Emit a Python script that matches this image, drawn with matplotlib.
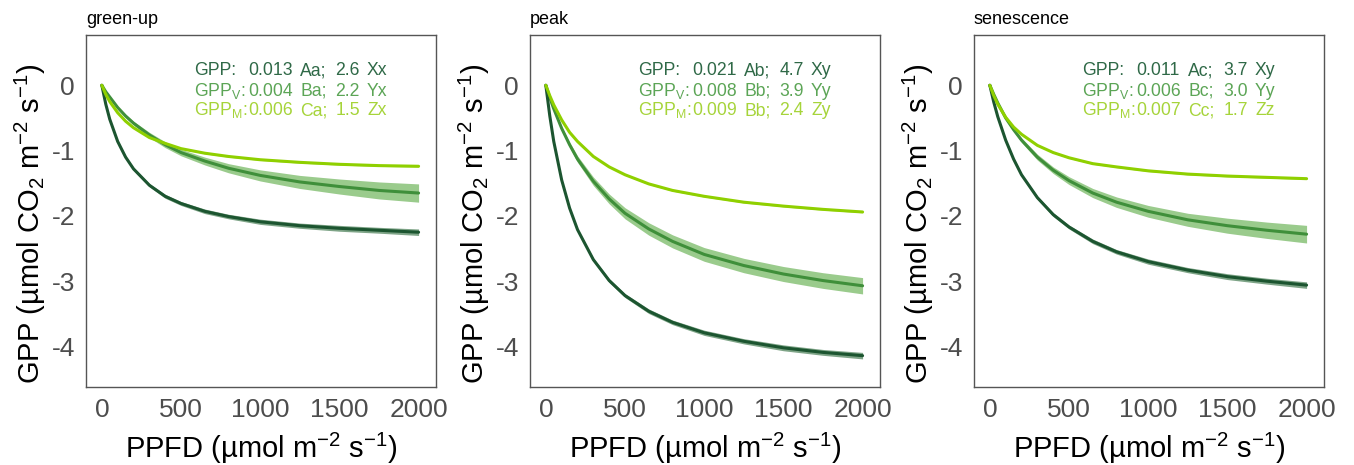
import matplotlib
matplotlib.use("Agg")
import matplotlib.pyplot as plt
import numpy as np

plt.rcParams['font.family'] = ['Liberation Sans', 'DejaVu Sans']
plt.rcParams['mathtext.default'] = 'regular'

# ---------------- data ----------------
ppfd = [0, 25, 50, 100, 150, 200, 300, 400, 500, 650, 800, 1000, 1250, 1500, 1750, 2000]

panel_titles = ["green-up", "peak", "senescence"]

# GPP (dark), GPP_V (medium), GPP_M (light)
gpp_greenup = [0, -0.29, -0.52, -0.86, -1.10, -1.28, -1.53, -1.70, -1.81, -1.93, -2.01, -2.09, -2.15, -2.19, -2.22, -2.25]
gppv_greenup = [0, -0.10, -0.18, -0.34, -0.47, -0.58, -0.76, -0.91, -1.03, -1.16, -1.27, -1.38, -1.48, -1.55, -1.61, -1.65]
gppm_greenup = [0, -0.14, -0.25, -0.42, -0.55, -0.65, -0.80, -0.89, -0.97, -1.04, -1.09, -1.14, -1.18, -1.21, -1.23, -1.24]

gpp_peak = [0, -0.47, -0.86, -1.45, -1.88, -2.21, -2.67, -2.99, -3.22, -3.46, -3.63, -3.79, -3.92, -4.02, -4.09, -4.14]
gppv_peak = [0, -0.19, -0.36, -0.66, -0.91, -1.13, -1.47, -1.74, -1.96, -2.20, -2.39, -2.59, -2.76, -2.89, -2.99, -3.07]
gppm_peak = [0, -0.16, -0.30, -0.53, -0.72, -0.86, -1.09, -1.25, -1.37, -1.51, -1.61, -1.70, -1.79, -1.85, -1.90, -1.94]

gpp_sen = [0, -0.26, -0.48, -0.84, -1.13, -1.37, -1.72, -1.98, -2.17, -2.39, -2.55, -2.70, -2.83, -2.93, -3.00, -3.06]
gppv_sen = [0, -0.14, -0.27, -0.50, -0.68, -0.84, -1.10, -1.30, -1.46, -1.65, -1.79, -1.93, -2.06, -2.15, -2.22, -2.28]
gppm_sen = [0, -0.16, -0.29, -0.49, -0.64, -0.75, -0.92, -1.03, -1.11, -1.20, -1.25, -1.31, -1.36, -1.39, -1.41, -1.43]

# half-widths of the confidence bands
band_dark = [0, 0.005, 0.01, 0.015, 0.02, 0.02, 0.025, 0.03, 0.03, 0.035, 0.035, 0.04, 0.04, 0.045, 0.045, 0.05]
band_v_greenup = [0, 0.01, 0.015, 0.02, 0.025, 0.03, 0.04, 0.045, 0.05, 0.06, 0.07, 0.085, 0.10, 0.115, 0.13, 0.14]
band_v_peak = [0, 0.01, 0.02, 0.03, 0.04, 0.05, 0.065, 0.075, 0.085, 0.095, 0.10, 0.105, 0.11, 0.115, 0.12, 0.125]
band_v_sen = [0, 0.01, 0.015, 0.02, 0.025, 0.035, 0.045, 0.05, 0.06, 0.07, 0.08, 0.09, 0.10, 0.115, 0.125, 0.135]
band_light = [0, 0.002, 0.004, 0.005, 0.006, 0.007, 0.008, 0.009, 0.01, 0.01, 0.011, 0.011, 0.012, 0.012, 0.012, 0.012]

# annotation texts: alpha, group letter, Pmax, group letter
ann_greenup = [("0.013", "Aa;", "2.6", "Xx"), ("0.004", "Ba;", "2.2", "Yx"), ("0.006", "Ca;", "1.5", "Zx")]
ann_peak = [("0.021", "Ab;", "4.7", "Xy"), ("0.008", "Bb;", "3.9", "Yy"), ("0.009", "Bb;", "2.4", "Zy")]
ann_sen = [("0.011", "Ac;", "3.7", "Xy"), ("0.006", "Bc;", "3.0", "Yy"), ("0.007", "Cc;", "1.7", "Zz")]

series_labels = ["GPP:", "GPP$_{V}$:", "GPP$_{M}$:"]

x_ticks = [0, 500, 1000, 1500, 2000]
y_ticks = [0, -1, -2, -3, -4]

# ---------------- styling ----------------
c_dark = "#1c5530"
c_med = "#3f8f3a"
c_light = "#8fd000"
c_band_dark = "#7ea487"
c_band_med = "#9acb8c"
c_txt = ["#2f6947", "#5ca556", "#a6d43a"]

panels = [
    (gpp_greenup, gppv_greenup, gppm_greenup, band_v_greenup, ann_greenup),
    (gpp_peak, gppv_peak, gppm_peak, band_v_peak, ann_peak),
    (gpp_sen, gppv_sen, gppm_sen, band_v_sen, ann_sen),
]

W, H = 1354, 465
fig = plt.figure(figsize=(W / 100, H / 100), dpi=100)
lefts = [86, 530, 974]
ax_w, ax_top, ax_bot = 350, 35, 387

x = np.array(ppfd, dtype=float)
for i, (dark, med, light, bandv, ann) in enumerate(panels):
    ax = fig.add_axes([lefts[i] / W, 1 - ax_bot / H, ax_w / W, (ax_bot - ax_top) / H])
    d, m, l = np.array(dark), np.array(med), np.array(light)
    bd, bv, bl = np.array(band_dark), np.array(bandv), np.array(band_light)

    ax.fill_between(x, m - bv, m + bv, color=c_band_med, lw=0, zorder=1)
    ax.plot(x, m, color=c_med, lw=2.2, zorder=2, solid_capstyle='round')
    ax.fill_between(x, d - bd, d + bd, color=c_band_dark, lw=0, zorder=3)
    ax.plot(x, d, color=c_dark, lw=2.2, zorder=4, solid_capstyle='round')
    ax.fill_between(x, l - bl, l + bl, color="#b8e070", lw=0, zorder=5)
    ax.plot(x, l, color=c_light, lw=2.2, zorder=6, solid_capstyle='round')

    ax.set_xlim(-100, 2110)
    ax.set_ylim(-4.62, 0.77)
    ax.set_xticks(x_ticks)
    ax.set_yticks(y_ticks)
    ax.set_yticklabels([str(t) for t in y_ticks])
    ax.tick_params(length=0, labelsize=19, colors="#4d4d4d", pad=8)
    for s in ax.spines.values():
        s.set_color("#555555")
        s.set_linewidth(1.0)

    ax.set_xlabel("PPFD (µmol m$^{-2}$ s$^{-1}$)", fontsize=21, labelpad=6)
    ax.set_ylabel("GPP (µmol CO$_{2}$ m$^{-2}$ s$^{-1}$)", fontsize=21, va='center')
    ax.yaxis.set_label_coords(-56 / ax_w, 0.465)
    ax.set_title(panel_titles[i], loc='left', fontsize=13, pad=8)

    cols = [0.309, 0.463, 0.612, 0.712, 0.803]
    ys = [0.886, 0.8276, 0.7727]
    for k in range(3):
        ax.text(cols[0], ys[k], series_labels[k], transform=ax.transAxes,
                fontsize=12.7, color=c_txt[k], va='baseline', ha='left')
        for j, piece in enumerate(ann[k]):
            ax.text(cols[j + 1], ys[k], piece, transform=ax.transAxes,
                    fontsize=12.7, color=c_txt[k], va='baseline', ha='left')

fig.savefig("out.png", dpi=100)
